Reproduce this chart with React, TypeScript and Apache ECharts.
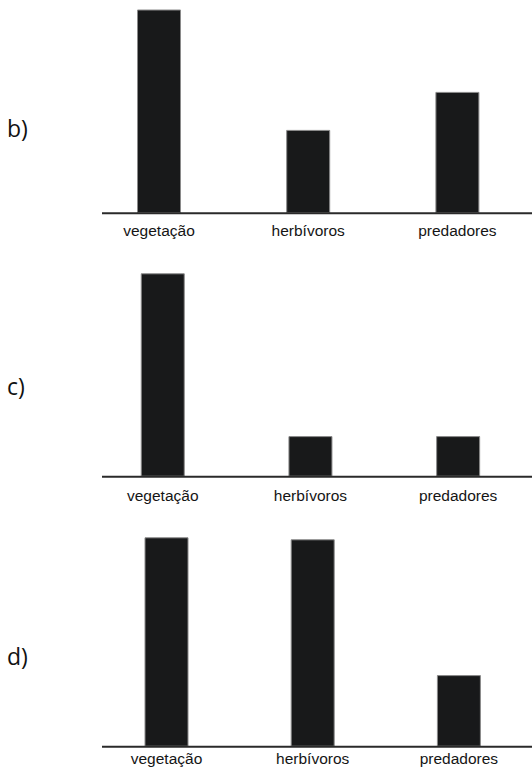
import React, { useEffect, useRef } from "react";
import * as echarts from "echarts";

const categories = ["vegetação", "herbívoros", "predadores"];
const panelNames = ["b)", "c)", "d)"];
const valuesB = [101.9, 41.7, 60.7];
const valuesC = [101.7, 20.3, 20.3];
const valuesD = [104.7, 103.7, 35.8];
const panelValues = [valuesB, valuesC, valuesD];

// layout per panel: axis y (px), grid left, category band width, label margin, panel label y
const axisYs = [213.3, 476.7, 746.7];
const gridLefts = [84.4, 88.9, 93.4];
const bandWidths = [153.25, 151.25, 149.25];
const labelMargins = [9, 11, 4];
const panelLabelYs = [128, 386, 656];
const Y_MAX = 105;
const PLOT_H = 210;

export default function App() {
  const ref = useRef<HTMLDivElement>(null);
  useEffect(() => {
    if (!ref.current) return;
    const chart = echarts.init(ref.current, null, { renderer: "svg" });
    const grids: any[] = [];
    const xAxes: any[] = [];
    const yAxes: any[] = [];
    const series: any[] = [];
    const graphics: any[] = [];
    panelValues.forEach((vals, i) => {
      grids.push({
        left: gridLefts[i],
        top: axisYs[i] - PLOT_H,
        width: bandWidths[i] * 3,
        height: PLOT_H,
        containLabel: false,
      });
      xAxes.push({
        type: "category",
        gridIndex: i,
        data: categories,
        axisLine: { show: false },
        axisTick: { show: false },
        axisLabel: {
          margin: labelMargins[i],
          fontFamily: "Liberation Sans, Arial, sans-serif",
          fontSize: 15.5,
          color: "#151515",
        },
      });
      yAxes.push({
        type: "value",
        gridIndex: i,
        min: 0,
        max: Y_MAX,
        show: false,
        splitLine: { show: false },
      });
      series.push({
        type: "bar",
        xAxisIndex: i,
        yAxisIndex: i,
        data: vals,
        barWidth: 44,
        itemStyle: { color: "#18191a", borderColor: "#8a8a8a", borderWidth: 1 },
      });
      graphics.push({
        type: "line",
        shape: { x1: 102, y1: axisYs[i], x2: 532, y2: axisYs[i] },
        style: { stroke: "#2a2a2a", lineWidth: 2 },
        z: 10,
      });
      graphics.push({
        type: "text",
        x: 7,
        y: panelLabelYs[i],
        style: {
          text: panelNames[i],
          fontFamily: "Open Sans, sans-serif",
          fontSize: 23,
          fill: "#111",
          verticalAlign: "middle",
          align: "left",
        },
      });
    });
    chart.setOption({
      animation: false,
      backgroundColor: "#fff",
      grid: grids,
      xAxis: xAxes,
      yAxis: yAxes,
      series,
      graphic: graphics,
    });
    return () => chart.dispose();
  }, []);
  return (
    <div
      ref={ref}
      style={{ position: "fixed", left: 0, top: 0, width: 532, height: 771 }}
    />
  );
}
